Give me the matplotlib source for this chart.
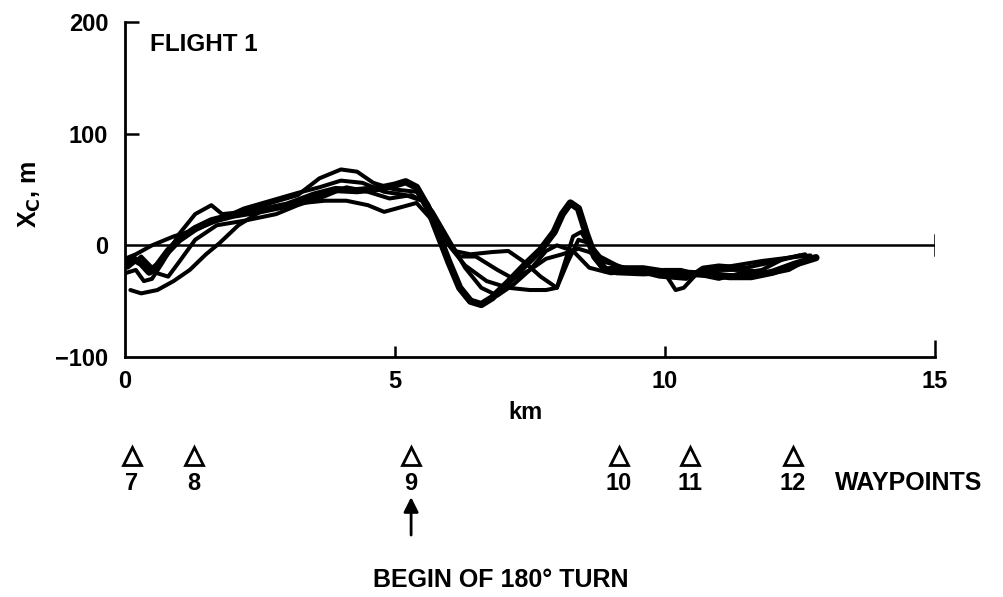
import matplotlib
matplotlib.use("Agg")
import matplotlib.pyplot as plt

plt.rcParams['font.family'] = ['Liberation Sans', 'DejaVu Sans']
plt.rcParams['font.weight'] = 'bold'

# ---- data (km, m) ----
a_x = [0.0, 0.15, 0.3, 0.45, 0.6, 0.8, 1.0, 1.3, 1.6, 2.0, 2.5, 3.0, 3.5, 3.9, 4.3, 4.7, 5.0, 5.2, 5.4,
       5.6, 5.8, 6.0, 6.2, 6.4, 6.6, 6.8, 7.1, 7.4, 7.7, 7.95, 8.1, 8.25, 8.4, 8.55, 8.7, 8.9, 9.2, 9.6,
       10.0, 10.4, 10.8, 11.2, 11.6, 12.0, 12.4, 12.8]
a_y = [-18, -12, -16, -24, -18, -5, 5, 15, 22, 27, 31, 36, 45, 50, 49, 51, 54, 57, 52,
       35, 10, -15, -38, -50, -53, -47, -33, -18, -4, 12, 28, 38, 33, 10, -10, -22, -21, -21,
       -24, -25, -26, -28, -28, -24, -17, -11]

b_x = [0.1, 0.3, 0.6, 0.9, 1.2, 1.5, 1.75, 2.1, 2.5, 2.9, 3.3, 3.7, 4.1, 4.5, 4.8, 5.1, 5.4, 5.7, 6.0,
       6.3, 6.7, 7.1, 7.5, 7.8, 8.0, 8.15, 8.3, 8.45, 8.6, 8.8, 9.1, 9.6, 10.0, 10.2, 10.35, 10.6, 11.0,
       11.5, 12.0, 12.3, 12.6]
b_y = [-40, -43, -40, -32, -22, -8, 2, 18, 30, 35, 38, 40, 40, 36, 30, 34, 38, 22, 0,
       -18, -32, -38, -40, -40, -38, -15, 8, 12, 0, -18, -25, -26, -25, -40, -38, -25, -22,
       -22, -25, -22, -14]

c_x = [0.0, 0.2, 0.35, 0.5, 0.7, 1.0, 1.3, 1.6, 1.8, 2.2, 2.7, 3.2, 3.6, 4.0, 4.3, 4.6, 5.0, 5.4, 5.7,
       6.0, 6.3, 6.6, 6.9, 7.2, 7.5, 7.8, 8.1, 8.4, 8.6, 8.9, 9.4, 9.9, 10.4, 10.7, 11.0, 11.5, 12.0, 12.5]
c_y = [-25, -22, -32, -30, -15, 10, 28, 36, 28, 30, 38, 45, 60, 68, 66, 56, 50, 48, 30,
       5, -20, -38, -45, -35, -22, -12, -8, -3, -6, -15, -22, -28, -30, -20, -18, -20, -15, -9]

d_x = [0.0, 0.2, 0.5, 0.9, 1.3, 1.7, 2.2, 2.7, 3.2, 3.6, 4.0, 4.4, 4.8, 5.2, 5.5, 5.8, 6.1, 6.4, 6.8,
       7.1, 7.4, 7.7, 8.0, 8.2, 8.4, 8.6, 8.8, 9.2, 9.8, 10.3, 10.8, 11.3, 11.8, 12.3, 12.7]
d_y = [-12, -8, 0, 8, 14, 22, 33, 40, 47, 52, 58, 56, 48, 45, 40, 15, -5, -8, -6,
       -5, -15, -28, -38, -15, 5, 2, -10, -20, -25, -28, -22, -18, -14, -11, -9]

e_x = [0.05, 0.3, 0.6, 0.8, 1.0, 1.3, 1.7, 2.2, 2.8, 3.2, 3.7, 4.1, 4.5, 4.9, 5.3, 5.6, 5.9, 6.2, 6.5,
       6.9, 7.2, 7.5, 7.8, 8.0, 8.3, 8.6, 9.0, 9.5, 10.0, 10.3, 10.6, 11.0, 11.4, 11.8, 12.2, 12.6]
e_y = [-20, -10, -25, -28, -15, 5, 18, 22, 28, 36, 44, 52, 48, 42, 45, 38, 10, -10, -10,
       -22, -30, -22, -5, 0, -5, -20, -25, -23, -22, -22, -26, -30, -25, -22, -12, -8]

waypoint_km = [0.13, 1.28, 5.3, 9.15, 10.46, 12.37]
waypoint_labels = ['7', '8', '9', '10', '11', '12']

x_ticks = [0, 5, 10, 15]
y_ticks = [-100, 0, 100, 200]

# ---- figure ----
fig = plt.figure(figsize=(10.04, 5.97), dpi=100)
ax = fig.add_axes([0.1245, 0.402, 0.8065, 0.561])
ax.set_xlim(0, 15)
ax.set_ylim(-100, 200)

for sp in ['top', 'right']:
    ax.spines[sp].set_visible(False)
for sp in ['left', 'bottom']:
    ax.spines[sp].set_linewidth(2.0)

thin = 2.9
style = dict(color='black', solid_capstyle='round', solid_joinstyle='round')
ax.plot(b_x, b_y, lw=thin, **style)
ax.plot(c_x, c_y, lw=thin, **style)
ax.plot(d_x, d_y, lw=thin, **style)
ax.plot(e_x, e_y, lw=thin, **style)
ax.plot(a_x, a_y, lw=5.2, **style)

# zero line with end tick
ax.plot([0, 15], [0, 0], color='black', lw=1.8)
ax.plot([15, 15], [-9, 9], color='black', lw=1.8)

ax.set_xticks(x_ticks)
ax.set_yticks(y_ticks)
ax.set_xticklabels([str(v) for v in x_ticks])
ax.set_yticklabels(['\u2212100', '0', '100', '200'])
ax.tick_params(axis='both', direction='in', width=1.8, labelsize=17)
ax.tick_params(axis='x', length=8, pad=9)
ax.tick_params(axis='y', length=10, pad=12)
ax.xaxis.get_major_ticks()[3].tick1line.set_markersize(12)
ax.xaxis.get_major_ticks()[0].tick1line.set_visible(False)
ax.yaxis.get_major_ticks()[0].tick1line.set_visible(False)
ax.yaxis.get_major_ticks()[1].tick1line.set_visible(False)

ax.text(0.46, 180, 'FLIGHT 1', fontsize=17.5, fontweight='bold', ha='left', va='center')

ax.set_xlabel('km', fontsize=17, fontweight='bold')
ax.xaxis.set_label_coords(0.495, -0.13)
fig.text(0.03, 0.675, 'X$_\\mathbf{C}$, m', rotation=90, fontsize=18, fontweight='bold',
         ha='center', va='center')

# waypoints
ax.plot(waypoint_km, [-189] * len(waypoint_km), linestyle='none', marker='^', markersize=13,
        markerfacecolor='none', markeredgecolor='black', markeredgewidth=2.0, clip_on=False)
for xk, lab in zip(waypoint_km, waypoint_labels):
    ax.text(xk, -213, lab, fontsize=17, fontweight='bold', ha='center', va='center', clip_on=False)
ax.text(13.15, -213, 'WAYPOINTS', fontsize=18, fontweight='bold', ha='left', va='center',
        clip_on=False)

ax.annotate('', xy=(5.3, -223), xytext=(5.3, -262),
            arrowprops=dict(arrowstyle='-|>', color='black', lw=2, mutation_scale=22),
            annotation_clip=False)
ax.text(4.59, -300, 'BEGIN OF 180\u00b0 TURN', fontsize=18, fontweight='bold', ha='left',
        va='center', clip_on=False)

fig.savefig('out.png', dpi=100)
